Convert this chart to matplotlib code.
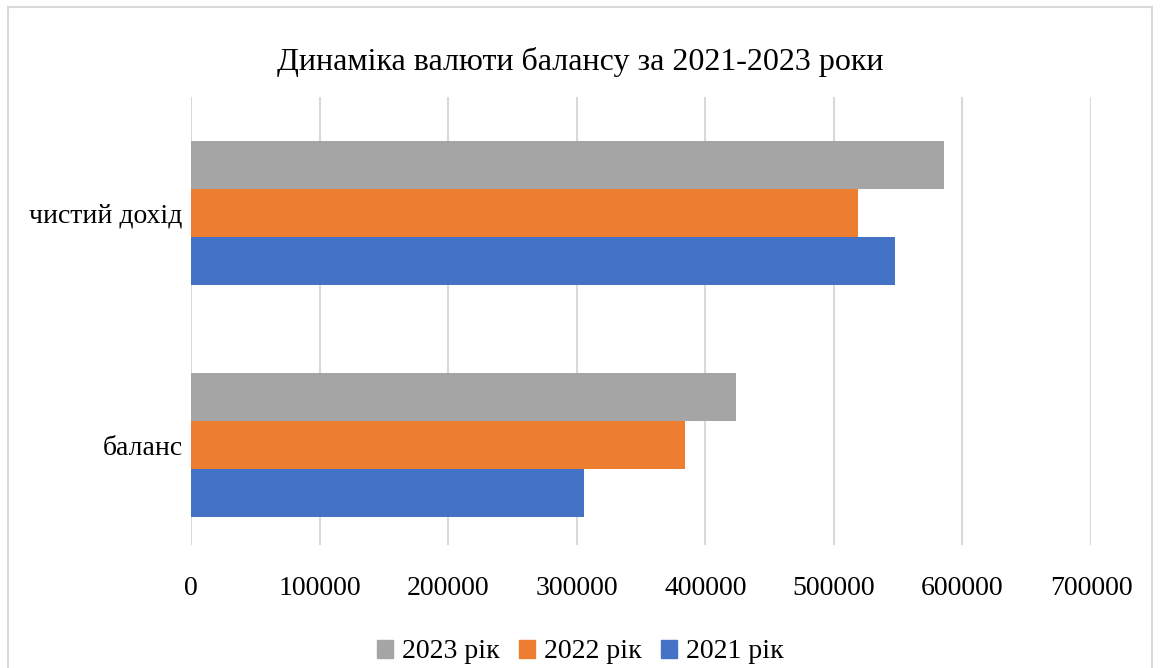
import matplotlib.pyplot as plt
from matplotlib.patches import Rectangle, Patch
import numpy as np

plt.rcParams['font.family'] = ['Liberation Serif', 'DejaVu Serif']

# дані з балансу
categories = ['баланс', 'чистий дохід']
years = ['2021 рік', '2022 рік', '2023 рік']
values_2021 = [305700, 547900]
values_2022 = [384300, 518500]
values_2023 = [423800, 585500]
colors = ['#4472c4', '#ed7d31', '#a5a5a5']
ticks = [0, 100000, 200000, 300000, 400000, 500000, 600000, 700000]

fig = plt.figure(figsize=(11.6, 6.68), dpi=100)
ax = fig.add_axes([191 / 1160, 1 - 545 / 668, 900 / 1160, 448 / 668])

y = np.arange(len(categories))
h = 48 / 232
series = [values_2021, values_2022, values_2023]
for i, vals in enumerate(series):
    ax.barh(y + (i - 1) * h, vals, height=h, color=colors[i], zorder=3)

ax.set_xlim(0, 700000)
ax.set_ylim(-0.431, 1.5)
ax.set_xticks(ticks)
ax.set_xticklabels([str(t) for t in ticks], fontsize=20)
ax.set_yticks(y)
ax.set_yticklabels(categories, fontsize=20)
ax.tick_params(length=0, pad=6)
ax.tick_params(axis='x', pad=22)
ax.grid(axis='x', color='#d9d9d9', linewidth=1.5, zorder=0)
for s in ax.spines.values():
    s.set_visible(False)

fig.text(0.5, 1 - 62 / 668, 'Динаміка валюти балансу за 2021-2023 роки',
         ha='center', va='center', fontsize=23)

handles = [Patch(color=colors[i], label=years[i]) for i in [2, 1, 0]]
fig.legend(handles=handles, loc='center', bbox_to_anchor=(0.5, 1 - 652 / 668),
           ncol=3, frameon=False, fontsize=20, handlelength=0.6, handleheight=0.6,
           handletextpad=0.3, columnspacing=0.7)

fig.add_artist(Rectangle((8 / 1160, -0.05), 1144 / 1160, 1.05 - 7 / 668,
                         transform=fig.transFigure, fill=False,
                         edgecolor='#d9d9d9', linewidth=1.5))

fig.savefig('out.png', dpi=100)
